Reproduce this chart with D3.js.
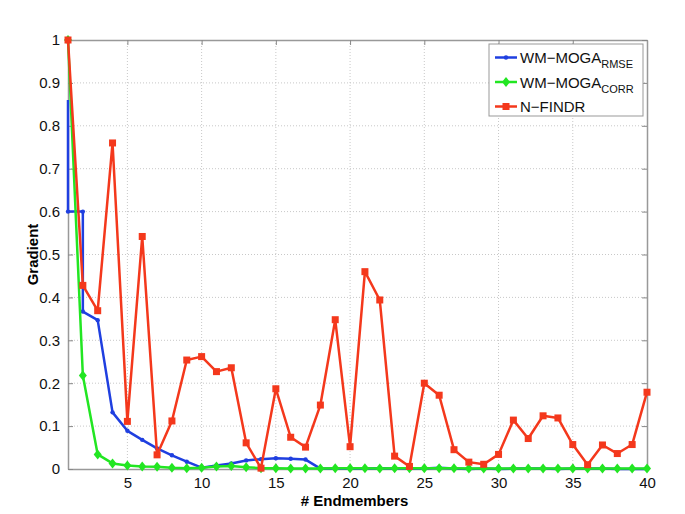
<!DOCTYPE html>
<html>
<head>
<meta charset="utf-8">
<script src="https://cdn.jsdelivr.net/npm/d3@7"></script>
<style>
  body { margin: 0; background: #fff; }
  text { font-family: "Liberation Sans", Arial, Helvetica, sans-serif; }
</style>
</head>
<body>
<div id="chart"></div>
<script>
// tick values
var xTicks = [5, 10, 15, 20, 25, 30, 35, 40];
var yTicks = [0, 0.1, 0.2, 0.3, 0.4, 0.5, 0.6, 0.7, 0.8, 0.9, 1];

// WM-MOGA RMSE (has repeated x at 1 and 2)
var rmseX = [1, 1, 2, 2, 3, 4, 5, 6, 7, 8, 9, 10, 11, 12, 13, 14, 15, 16, 17, 18, 19, 20,
             21, 22, 23, 24, 25, 26, 27, 28, 29, 30, 31, 32, 33, 34, 35, 36, 37, 38, 39, 40];
var rmseY = [0.86, 0.6, 0.6, 0.367, 0.347, 0.132, 0.089, 0.068, 0.048, 0.032, 0.017, 0.003,
             0.008, 0.013, 0.02, 0.023, 0.025, 0.024, 0.022, 0.001, 0.001, 0.001,
             0.001, 0.002, 0.001, 0.001, 0.001, 0.003, 0.001, 0, 0.001, 0, 0.001, 0.001,
             0.001, 0, 0.001, 0.001, 0.001, 0, 0, 0];

// WM-MOGA CORR
var corrX = d3.range(1, 41);
var corrY = [1, 0.218, 0.034, 0.013, 0.008, 0.006, 0.005, 0.003, 0.002, 0.003,
             0.006, 0.007, 0.004, 0.002, 0.002, 0.001, 0.001, 0.001, 0.002, 0.002,
             0.002, 0.001, 0.002, 0.002, 0.002, 0.002, 0.002, 0.001, 0.001, 0.001,
             0.001, 0.001, 0.001, 0.001, 0.001, 0.001, 0.001, 0.001, 0.001, 0.001];

// N-FINDR
var nfindrX = d3.range(1, 41);
var nfindrY = [1, 0.428, 0.369, 0.76, 0.111, 0.542, 0.033, 0.112, 0.254, 0.262,
               0.227, 0.236, 0.061, 0.002, 0.187, 0.074, 0.051, 0.149, 0.348, 0.052,
               0.46, 0.394, 0.03, 0.006, 0.2, 0.172, 0.045, 0.016, 0.011, 0.034,
               0.114, 0.071, 0.124, 0.119, 0.057, 0.01, 0.056, 0.036, 0.057, 0.179];

var series = [
  {name: "WM\u2212MOGA", sub: "RMSE", xs: rmseX, ys: rmseY, color: "#1f3fe0", marker: "dot", skipFirst: true},
  {name: "WM\u2212MOGA", sub: "CORR", xs: corrX, ys: corrY, color: "#22e622", marker: "diamond"},
  {name: "N\u2212FINDR", sub: "", xs: nfindrX, ys: nfindrY, color: "#f4381c", marker: "square"}
];

var W = 685, H = 514;
var margin = {top: 40, right: 38, bottom: 45, left: 68},
    width = W - margin.left - margin.right,
    height = H - margin.top - margin.bottom;

var x = d3.scaleLinear().domain([1, 40]).range([0, width]);
var y = d3.scaleLinear().domain([0, 1]).range([height, 0]);

var svg = d3.select("#chart").append("svg")
    .attr("width", W)
    .attr("height", H)
  .append("g")
    .attr("transform", "translate(" + margin.left + "," + margin.top + ")");

// grid
svg.append("g")
    .selectAll("line")
    .data(xTicks.filter(function(d) { return d < 40; }))
    .enter().append("line")
    .attr("x1", function(d) { return x(d); })
    .attr("x2", function(d) { return x(d); })
    .attr("y1", 0).attr("y2", height)
    .attr("stroke", "#c8c8c8").attr("stroke-width", 1)
    .attr("stroke-dasharray", "1,2");

svg.append("g")
    .selectAll("line")
    .data(yTicks.filter(function(d) { return d > 0 && d < 1; }))
    .enter().append("line")
    .attr("y1", function(d) { return y(d); })
    .attr("y2", function(d) { return y(d); })
    .attr("x1", 0).attr("x2", width)
    .attr("stroke", "#c8c8c8").attr("stroke-width", 1)
    .attr("stroke-dasharray", "1,2");

// axes (ticks inward, MATLAB box style)
var fmt = function(d) { return d3.format("")(+d.toFixed(1)); };

var gx = svg.append("g")
    .attr("transform", "translate(0," + height + ")")
    .call(d3.axisBottom(x).tickValues(xTicks).tickSizeInner(-5).tickSizeOuter(0).tickPadding(8));
var gy = svg.append("g")
    .call(d3.axisLeft(y).tickValues(yTicks).tickFormat(fmt).tickSizeInner(-5).tickSizeOuter(0).tickPadding(8));
var gt = svg.append("g")
    .call(d3.axisTop(x).tickValues(xTicks).tickSizeInner(-5).tickSizeOuter(0).tickFormat(""));
var gr = svg.append("g")
    .attr("transform", "translate(" + width + ",0)")
    .call(d3.axisRight(y).tickValues(yTicks).tickSizeInner(-5).tickSizeOuter(0).tickFormat(""));

[gx, gy, gt, gr].forEach(function(g) {
  g.select(".domain").attr("stroke", "#999").attr("stroke-width", 1.5);
  g.selectAll(".tick line").attr("stroke", "#888").attr("stroke-width", 1);
  g.selectAll(".tick text").attr("font-size", 15).attr("fill", "#111")
    .style("font-family", "'Liberation Sans', Arial, sans-serif");
});

// axis labels
svg.append("text")
    .attr("x", width / 2 - 3)
    .attr("y", height + 37)
    .attr("text-anchor", "middle")
    .attr("font-size", 15).attr("font-weight", "bold")
    .text("# Endmembers");

svg.append("text")
    .attr("transform", "translate(-30," + (height / 2) + ") rotate(-90)")
    .attr("text-anchor", "middle")
    .attr("font-size", 15).attr("font-weight", "bold")
    .text("Gradient");

// lines
var line = d3.line()
    .x(function(d) { return x(d[0]); })
    .y(function(d) { return y(d[1]); });

function drawMarker(g, cx, cy, s) {
  if (s.marker === "dot") {
    g.append("circle").attr("cx", cx).attr("cy", cy).attr("r", 2.2).attr("fill", s.color);
  } else if (s.marker === "diamond") {
    g.append("path")
      .attr("d", "M" + cx + "," + (cy - 5) + "L" + (cx + 4) + "," + cy + "L" + cx + "," + (cy + 5) + "L" + (cx - 4) + "," + cy + "Z")
      .attr("fill", s.color);
  } else {
    g.append("rect").attr("x", cx - 3.5).attr("y", cy - 3.5).attr("width", 7).attr("height", 7)
      .attr("fill", s.color);
  }
}

series.forEach(function(s) {
  var pts = s.xs.map(function(v, i) { return [v, s.ys[i]]; });
  var g = svg.append("g");
  g.append("path")
      .datum(pts)
      .attr("fill", "none")
      .attr("stroke", s.color)
      .attr("stroke-width", 2.5)
      .attr("stroke-linejoin", "round")
      .attr("d", line);
  pts.forEach(function(p, i) {
    if (s.skipFirst && i === 0) return;
    drawMarker(g, x(p[0]), y(p[1]), s);
  });
});

// legend
var lg = svg.append("g").attr("transform", "translate(" + (489 - margin.left) + "," + (44 - margin.top) + ")");
lg.append("rect").attr("width", 154).attr("height", 72)
    .attr("fill", "#fff").attr("stroke", "#999").attr("stroke-width", 1);

series.forEach(function(s, i) {
  var ly = 13.5 + i * 24.5;
  lg.append("line").attr("x1", 6).attr("x2", 28).attr("y1", ly).attr("y2", ly)
    .attr("stroke", s.color).attr("stroke-width", 2.5);
  drawMarker(lg, 17, ly, s);
  var t = lg.append("text").attr("x", 31).attr("y", ly + 5.5).attr("font-size", 15).attr("fill", "#111");
  t.append("tspan").text(s.name);
  if (s.sub) {
    t.append("tspan").attr("font-size", 11).attr("dy", 5).text(s.sub);
  }
});
</script>
</body>
</html>
